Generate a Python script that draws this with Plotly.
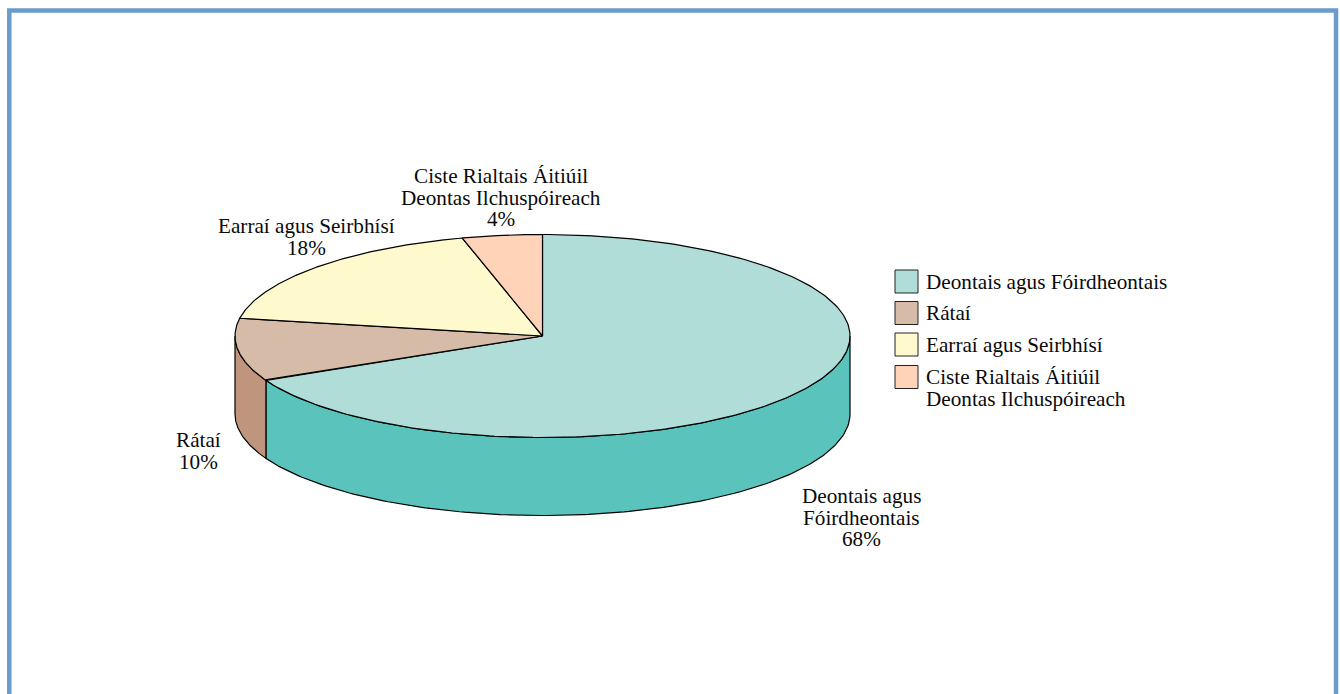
import numpy as np
import plotly.graph_objects as go

categories = ["Deontais agus Fóirdheontais", "Rátaí", "Earraí agus Seirbhísí",
              "Ciste Rialtais Áitiúil\nDeontas Ilchuspóireach"]
values = [67.8, 10.0, 18.0, 4.2]
percent_labels = ["68%", "10%", "18%", "4%"]
slice_labels = [["Deontais agus", "Fóirdheontais"], ["Rátaí"], ["Earraí agus Seirbhísí"],
                ["Ciste Rialtais Áitiúil", "Deontas Ilchuspóireach"]]
top_colors = ["#B0DDD8", "#D6BBA9", "#FFFACD", "#FFD3B8"]
side_colors = ["#5AC3BC", "#BF967D", "#FFFACD", "#FFD3B8"]

W, H = 1340, 694
CX, CY, RX, RY, DEPTH = 542.5, 336.0, 307.5, 101.5, 78.0
FONT = "Liberation Serif"
FS = 21.2
LH = 21.5
INK = "#000000"


def rim(t):
    t = np.radians(t)
    return CX + RX * np.sin(t), CY - RY * np.cos(t)


fig = go.Figure()

cum = np.concatenate([[0], np.cumsum(values)]) / sum(values) * 360.0

# Side wall: only the near half of the ellipse (90 deg .. 270 deg clockwise from top)
for i in range(len(values)):
    a0, a1 = max(cum[i], 90.0), min(cum[i + 1], 270.0)
    if a1 <= a0:
        continue
    tt = np.linspace(a0, a1, 160)
    x, y = rim(tt)
    fig.add_trace(go.Scatter(
        x=np.concatenate([x, x[::-1], x[:1]]),
        y=np.concatenate([y, y[::-1] + DEPTH, y[:1]]),
        mode="lines", fill="toself", fillcolor=side_colors[i],
        line=dict(color=INK, width=1.2), hoverinfo="skip", showlegend=False))

# Top face
for i in range(len(values)):
    tt = np.linspace(cum[i], cum[i + 1], 240)
    x, y = rim(tt)
    fig.add_trace(go.Scatter(
        x=np.concatenate([[CX], x, [CX]]),
        y=np.concatenate([[CY], y, [CY]]),
        mode="lines", fill="toself", fillcolor=top_colors[i],
        line=dict(color=INK, width=1.2), name=categories[i].replace("\n", " "),
        hoverinfo="name", showlegend=False))


def text_block(lines, xpos, ytop, anchor):
    for n, line in enumerate(lines):
        fig.add_annotation(x=xpos, y=ytop + n * LH, text=line, showarrow=False,
                           xanchor=anchor, yanchor="middle", xref="x", yref="y",
                           font=dict(family=FONT, size=FS, color="#0a0a0a"))


# Slice labels
label_pos = [(861, 496), (198, 440), (306, 226), (501, 176)]
for lab, pct, (lx, ly) in zip(slice_labels, percent_labels, label_pos):
    text_block(lab + [pct], lx, ly, "center")

# Legend
legend_y = [281.5, 313, 344.5, 377]
for cat, col, ly in zip(categories, top_colors, legend_y):
    fig.add_shape(type="rect", x0=895, x1=918, y0=ly - 11.5, y1=ly + 11.5, xref="x", yref="y",
                  fillcolor=col, line=dict(color="#222222", width=1))
    text_block(cat.split("\n"), 924, ly, "left")

# Frame
fig.add_shape(type="rect", x0=9.3, x1=1336, y0=10.5, y1=760, xref="x", yref="y",
              line=dict(color="#6A9BCD", width=4.5), fillcolor="rgba(0,0,0,0)", layer="below")

fig.update_layout(
    width=W, height=H, margin=dict(l=0, r=0, t=0, b=0),
    paper_bgcolor="white", plot_bgcolor="white", showlegend=False,
    xaxis=dict(range=[0, W], visible=False, fixedrange=True),
    yaxis=dict(range=[H, 0], visible=False, fixedrange=True),
)

fig.write_html("out.html", config=dict(displayModeBar=False),
               post_script="document.body.style.margin='0';document.documentElement.style.overflow='hidden';")
